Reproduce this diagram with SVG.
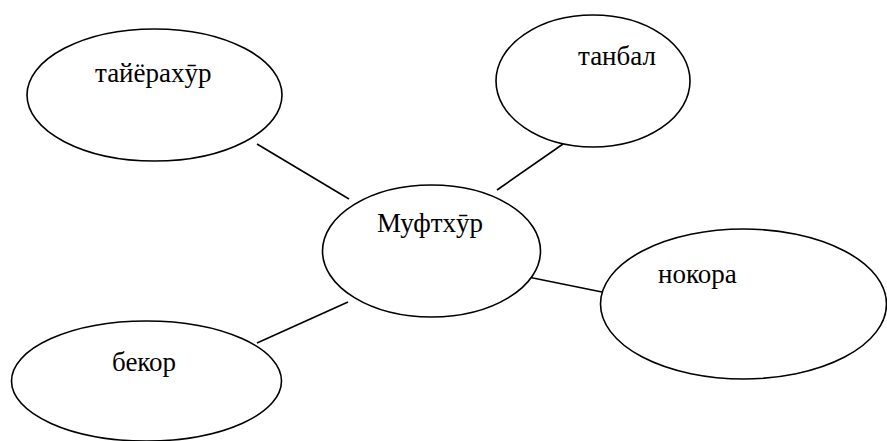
<svg xmlns="http://www.w3.org/2000/svg" width="887" height="441" viewBox="0 0 887 441">
<style>
.n{fill:#fff;stroke:#000;stroke-width:1.6}
.c line{stroke:#000;stroke-width:1.6}
</style>
<rect width="887" height="441" fill="#fff"/>
<g class="c" id="connectors">
<line x1="257" y1="144" x2="349" y2="199"/>
<line x1="563" y1="144" x2="497" y2="190"/>
<line x1="528" y1="277" x2="602" y2="292"/>
<line x1="348" y1="302" x2="257" y2="343"/>
</g>
<g font-family="Liberation Serif, DejaVu Serif, serif" font-size="27" fill="#000">
<g id="n1"><ellipse class="n" cx="154.5" cy="95" rx="127.5" ry="66"/><text x="95" y="82">тайёрахӯр</text></g>
<g id="n2"><ellipse class="n" cx="593" cy="81" rx="97" ry="66"/><text x="578" y="65">танбал</text></g>
<g id="n3"><ellipse class="n" cx="431.5" cy="251" rx="109" ry="66"/><text x="377" y="232">Муфтхӯр</text></g>
<g id="n4"><ellipse class="n" cx="743.5" cy="304" rx="143" ry="75"/><text x="658" y="283">нокора</text></g>
<g id="n5"><ellipse class="n" cx="146.5" cy="381" rx="135" ry="60"/><text x="112" y="371">бекор</text></g>
</g>
</svg>
